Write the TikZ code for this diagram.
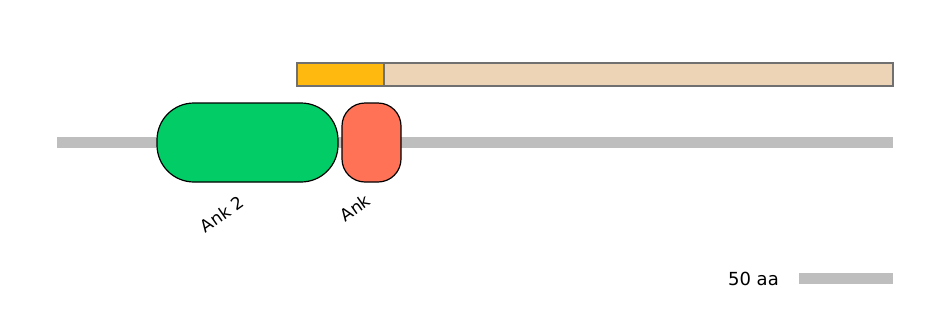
\documentclass[tikz,border=0pt]{standalone}
\usepackage{fontspec}
\setmainfont{DejaVu Sans}
\usepackage{tikz}
\usetikzlibrary{positioning, calc}
\usepackage{xcolor}
\definecolor{backbone}{HTML}{BEBEBE}
\definecolor{motifA}{HTML}{FFB90F}
\definecolor{motifB}{HTML}{EED4B6}
\definecolor{ankgreen}{HTML}{02CC66}
\definecolor{ankred}{HTML}{FF7256}
\definecolor{edgegray}{HTML}{707070}

\begin{document}
\begin{tikzpicture}[x=1pt, y=-1pt,
	ankbox/.style={draw=black, line width=1.2pt, inner sep=0pt},
	regionbox/.style={draw=edgegray, line width=1.5pt},
	domlabel/.style={font=\fontsize{17}{19}\selectfont, rotate=35}]
	\useasboundingbox (0,0) rectangle (944,330);

	% Cadena
	\fill[backbone] (57,137) rectangle (893,148);

	% Regiones
	\draw[regionbox, fill=motifB] (384,63) rectangle (893,86);
	\draw[regionbox, fill=motifA] (297,63) rectangle (384,86);

	% Dominios
	\node[ankbox, fill=ankgreen, minimum width=181pt, minimum height=79pt,
		rounded corners=37pt] (ank2) at (247.5,142.5) {};
	\node[ankbox, fill=ankred, minimum width=59pt, minimum height=79pt,
		rounded corners=23pt] (ank) at (371.5,142.5) {};
	\node[domlabel] (ank2lbl) at (222,214) {Ank 2};
	\node[domlabel] (anklbl) at (355,208) {Ank};

	% Escala
	\fill[backbone] (799,273) rectangle (893,284);
	\node[font=\fontsize{18}{20}\selectfont, anchor=east, inner sep=0pt] (scale) at (779,278.5) {50 aa};
\end{tikzpicture}
\end{document}
